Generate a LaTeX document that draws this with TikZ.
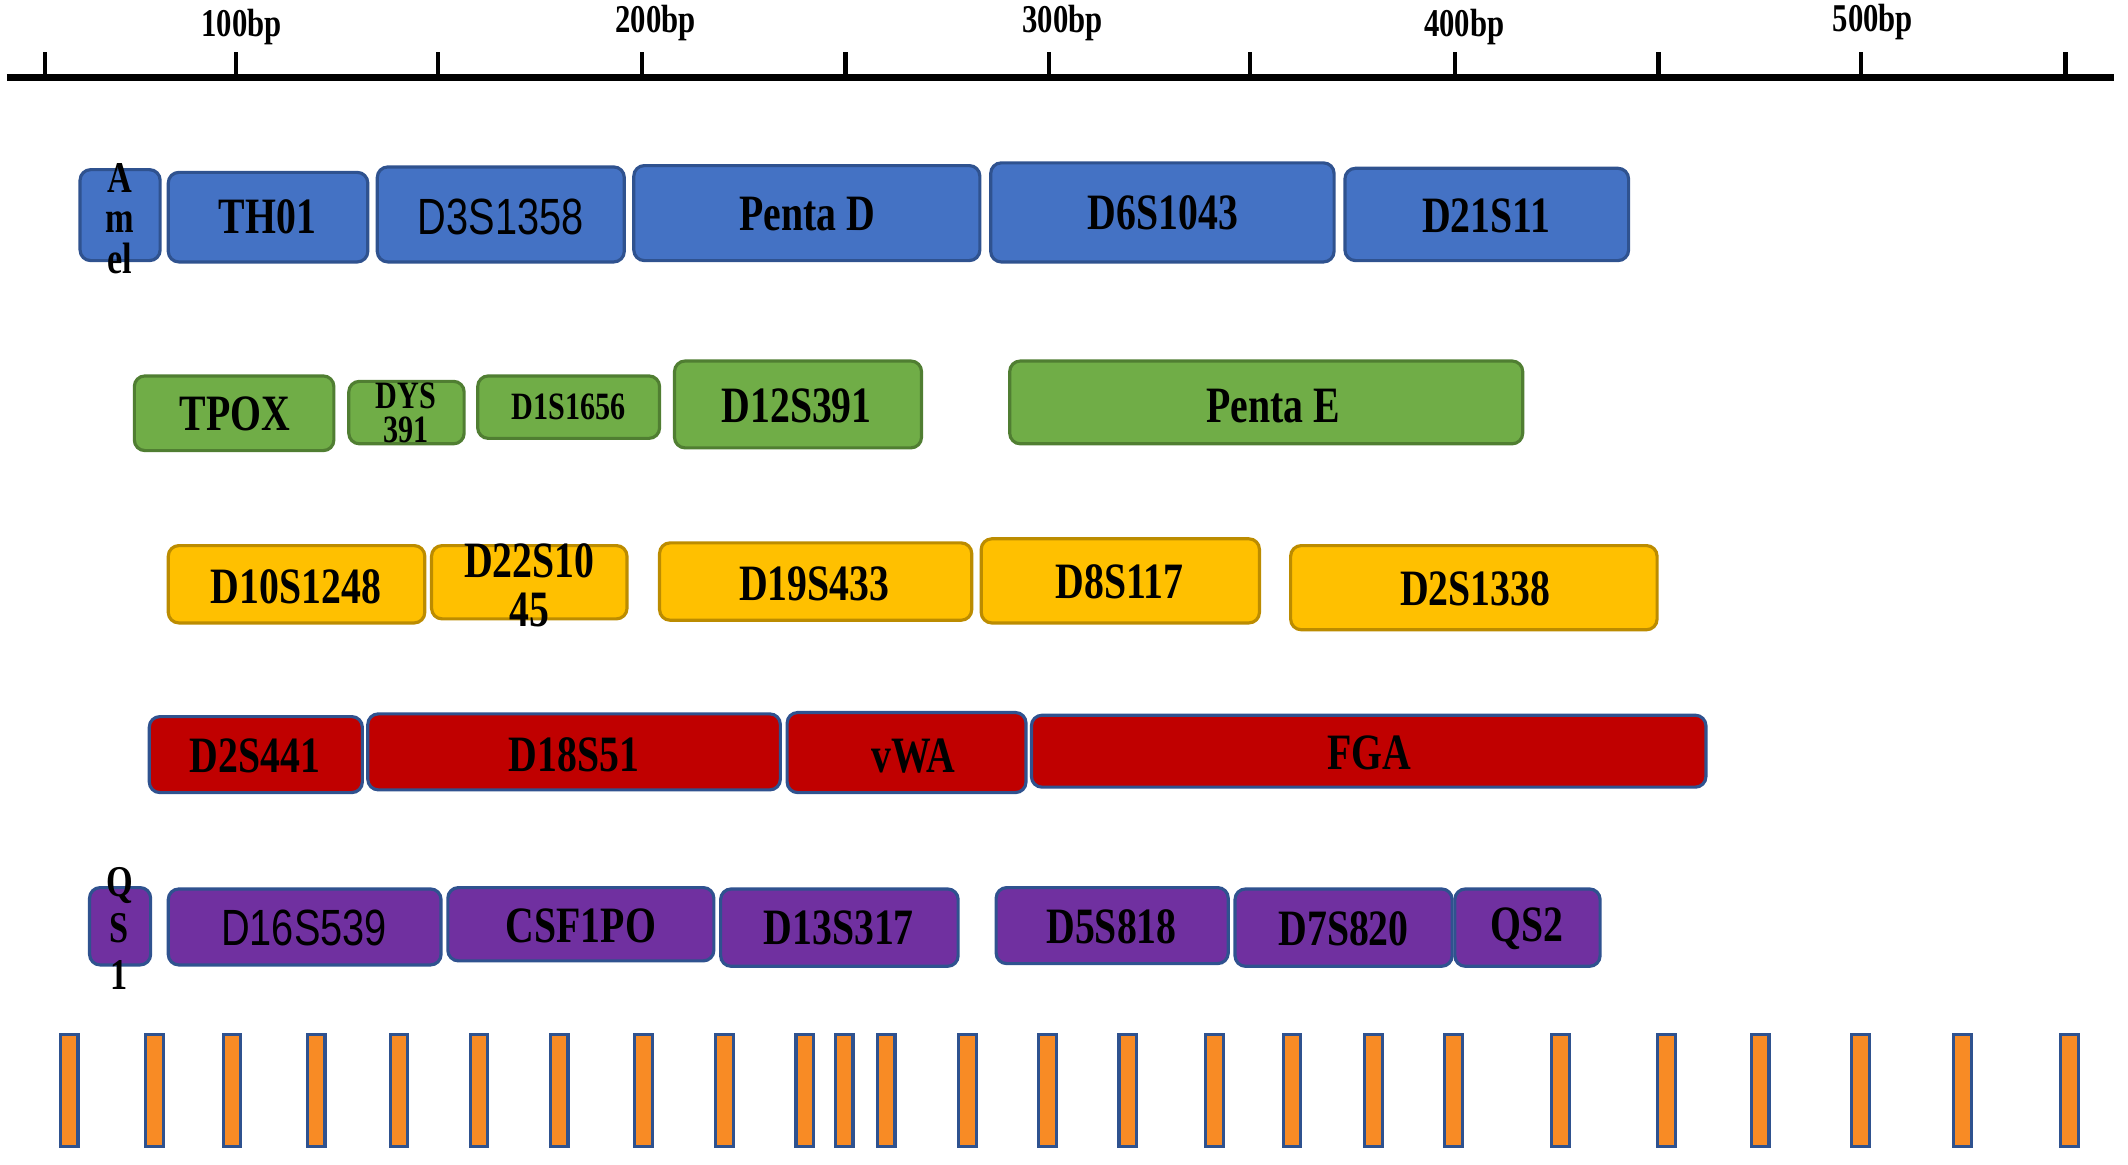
\documentclass[tikz,border=0pt]{standalone}
\usepackage{fontspec}
\setmainfont[FakeStretch=0.78]{Liberation Serif}
\setsansfont[FakeStretch=0.78]{Liberation Sans}

\definecolor{lblue}{HTML}{4472C4}
\definecolor{lgreen}{HTML}{70AD47}
\definecolor{lgold}{HTML}{FFC000}
\definecolor{lred}{HTML}{C00000}
\definecolor{lpurple}{HTML}{7030A0}
\definecolor{lorange}{HTML}{F88B25}
\definecolor{edgeblue}{HTML}{2F528F}
\definecolor{edgegreen}{HTML}{507E32}
\definecolor{edgegold}{HTML}{BC8C00}

\tikzset{
  locus/.style={rounded corners=3pt, line width=0.9pt},
  bluebox/.style={locus, fill=lblue, draw=edgeblue},
  greenbox/.style={locus, fill=lgreen, draw=edgegreen},
  goldbox/.style={locus, fill=lgold, draw=edgegold},
  redbox/.style={locus, fill=lred, draw=edgeblue},
  purplebox/.style={locus, fill=lpurple, draw=edgeblue},
  lbl/.style={inner sep=0pt, font=\fontsize{14.5}{16}\selectfont\bfseries},
  sanslbl/.style={inner sep=0pt, font=\fontsize{14.5}{16}\selectfont\sffamily},
  smalllbl/.style={inner sep=0pt, align=center, font=\fontsize{11}{9.6}\selectfont\bfseries},
  stacklbl/.style={inner sep=0pt, align=center, font=\fontsize{12.5}{11.6}\selectfont\bfseries},
  bplbl/.style={inner sep=0pt, font=\fontsize{11.2}{12}\selectfont\bfseries}
}

\begin{document}
\begin{tikzpicture}[x=0.13571mm, y=-0.13571mm]
\useasboundingbox (0,0) rectangle (1568,858);

% scale
\coordinate (axL) at (5,57);
\coordinate (axR) at (1558,57);
\draw[line width=1.8pt] (axL) -- (axR);
\foreach \x in {33,174,323,473,623,773,921,1072,1222,1371,1522}
  \draw[line width=1.2pt] (\x,57) -- (\x,38);
\node[bplbl] (bp100) at (178,20) {100bp};
\node[bplbl] (bp200) at (483,17) {200bp};
\node[bplbl] (bp300) at (783,17) {300bp};
\node[bplbl] (bp400) at (1079,20) {400bp};
\node[bplbl] (bp500) at (1380,16) {500bp};

% blue
\draw[bluebox] (59,125) rectangle (118,192);
\draw[bluebox] (124,127) rectangle (271,193);
\draw[bluebox] (278,123) rectangle (460,193);
\draw[bluebox] (467,122) rectangle (722,192);
\draw[bluebox] (730,120) rectangle (983,193);
\draw[bluebox] (991,124) rectangle (1200,192);
\node[stacklbl] (amel) at (88,161) {A\\m\\el};
\node[lbl] (th01) at (197,160) {TH01};
\node[sanslbl] (d3s1358) at (369,160) {D3S1358};
\node[lbl] (pentad) at (595,158) {Penta D};
\node[lbl] (d6s1043) at (857,157) {D6S1043};
\node[lbl] (d21s11) at (1095,159) {D21S11};

% green
\draw[greenbox] (99,277) rectangle (246,332);
\draw[greenbox] (257,281) rectangle (342,327);
\draw[greenbox] (352,277) rectangle (486,323);
\draw[greenbox] (497,266) rectangle (679,330);
\draw[greenbox] (744,266) rectangle (1122,327);
\node[lbl] (tpox) at (173,305) {TPOX};
\node[smalllbl] (dys391) at (299,304) {DYS\\391};
\node[smalllbl] (d1s1656) at (419,300) {D1S1656};
\node[lbl] (d12s391) at (587,299) {D12S391};
\node[lbl] (pentae) at (938,299) {Penta E};

% gold
\draw[goldbox] (124,402) rectangle (313,459);
\draw[goldbox] (318,402) rectangle (462,456);
\draw[goldbox] (486,400) rectangle (716,457);
\draw[goldbox] (723,397) rectangle (928,459);
\draw[goldbox] (951,402) rectangle (1221,464);
\node[lbl] (d10s1248) at (218,432) {D10S1248};
\node[lbl, align=center, font=\fontsize{14.5}{14}\selectfont\bfseries] (d22s1045) at (390,431) {D22S10\\45};
\node[lbl] (d19s433) at (600,430) {D19S433};
\node[lbl] (d8s117) at (825,429) {D8S117};
\node[lbl] (d2s1338) at (1087,434) {D2S1338};

% red
\draw[redbox] (110,528) rectangle (267,584);
\draw[redbox] (271,526) rectangle (575,582);
\draw[redbox] (580,525) rectangle (756,584);
\draw[redbox] (760,527) rectangle (1257,580);
\node[lbl] (d2s441) at (188,557) {D2S441};
\node[lbl] (d18s51) at (423,556) {D18S51};
\node[lbl] (vwa) at (673,557) {vWA};
\node[lbl] (fga) at (1009,555) {FGA};

% purple
\draw[purplebox] (66,654) rectangle (111,711);
\draw[purplebox] (124,655) rectangle (325,711);
\draw[purplebox] (330,654) rectangle (526,708);
\draw[purplebox] (531,655) rectangle (706,712);
\draw[purplebox] (734,654) rectangle (905,710);
\draw[purplebox] (910,655) rectangle (1070,712);
\draw[purplebox] (1072,655) rectangle (1179,712);
\node[stacklbl, font=\fontsize{12.5}{13.2}\selectfont\bfseries] (qs1) at (88,684) {Q\\S\\1};
\node[sanslbl] (d16s539) at (224,684) {D16S539};
\node[lbl] (csf1po) at (428,682) {CSF1PO};
\node[lbl] (d13s317) at (618,684) {D13S317};
\node[lbl] (d5s818) at (819,683) {D5S818};
\node[lbl] (d7s820) at (990,684) {D7S820};
\node[lbl] (qs2) at (1125,684) {QS2};

% ladder
\foreach \x in {51,114,171,233,294,353,412,474,534,593,622,653,713,772,831,895,952,1012,1071,1150,1228,1297,1371,1446,1525}
  \draw[fill=lorange, draw=edgeblue, line width=0.9pt] (\x-6.5,762) rectangle (\x+6.5,845);
\end{tikzpicture}
\end{document}
